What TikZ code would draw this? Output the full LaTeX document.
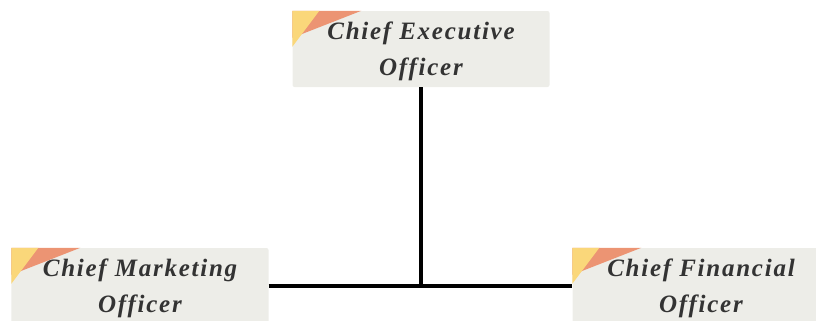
\documentclass[tikz,border=0pt]{standalone}
\usepackage{fontspec}
\setmainfont{Liberation Serif}[LetterSpace=7]
\usetikzlibrary{calc}
\definecolor{boxfill}{HTML}{EDEDE8}
\definecolor{txt}{HTML}{333333}
\definecolor{cyellow}{HTML}{FAD77A}
\definecolor{corange}{HTML}{EC9473}
\tikzset{
  rolebox/.style={fill=boxfill, rounded corners=2bp, minimum width=257bp, minimum height=76bp,
    inner sep=0pt},
  roletext/.style={align=center, text=txt, inner sep=0pt, yshift=-2bp,
    font=\fontsize{25bp}{36bp}\selectfont\bfseries\itshape},
  link/.style={line width=4bp, black}
}
\newcommand{\cornerdeco}[1]{%
  \fill[corange] (#1.north west) -- ($(#1.north west)+(69,0)$) -- ($(#1.north west)+(0,27)$) -- cycle;
  \fill[cyellow] (#1.north west) -- ($(#1.north west)+(27,0)$) -- ($(#1.north west)+(0,36)$) -- cycle;
}
\begin{document}
\begin{tikzpicture}[x=1bp,y=-1bp]
\useasboundingbox (0,0) rectangle (816,320);
\clip (0,0) rectangle (816,320);
\node[rolebox, label={[roletext]center:{Chief Executive\\Officer}}] (ceo) at (421,49) {};
\node[rolebox, label={[roletext]center:{Chief Marketing\\Officer}}] (cmo) at (140,286) {};
\node[rolebox, label={[roletext]center:{Chief Financial\\Officer}}] (cfo) at (701,286) {};
\cornerdeco{ceo}
\cornerdeco{cmo}
\cornerdeco{cfo}
\draw[link] (ceo.south) -- (ceo.south |- cmo.east);
\draw[link] (cmo.east) -- (cfo.west);
\end{tikzpicture}
\end{document}
